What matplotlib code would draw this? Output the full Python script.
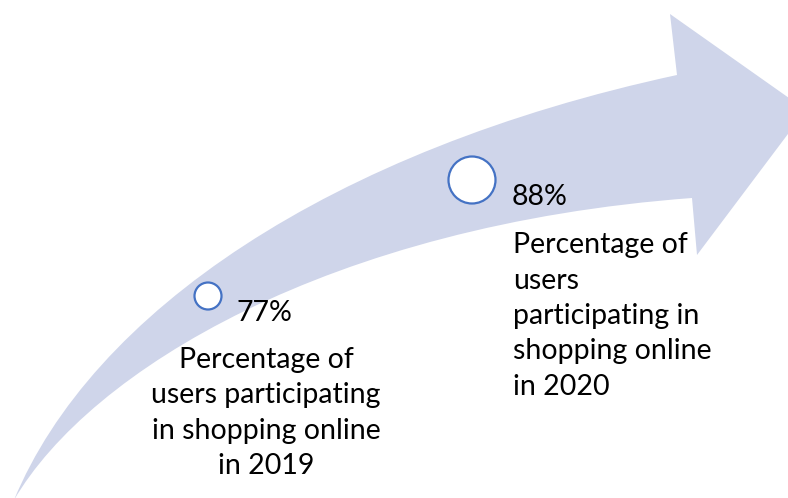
import matplotlib
matplotlib.use("Agg")
import matplotlib.pyplot as plt
from matplotlib.patches import PathPatch, Circle
from matplotlib.path import Path

years = [2019, 2020]
shares = [77, 88]
captions = [
    "Percentage of\nusers participating\nin shopping online\nin 2019",
    "Percentage of\nusers\nparticipating in\nshopping online\nin 2020",
]

ARROW_COLOR = "#CFD5EA"
RING_COLOR = "#4472C4"
FONT = ["Lato", "DejaVu Sans"]

fig = plt.figure(figsize=(7.88, 4.98), dpi=100)
ax = fig.add_axes([0, 0, 1, 1])
ax.set_xlim(0, 788)
ax.set_ylim(498, 0)
ax.axis("off")

# curved arrow: upper edge, head, then lower edge back to the tail
verts = [
    (14, 500),
    (92, 312), (330, 150), (677, 75),
    (670, 14),
    (806, 110),
    (697, 255),
    (692, 198),
    (330, 225), (90, 370), (14, 500),
    (14, 500),
]
codes = [Path.MOVETO,
         Path.CURVE4, Path.CURVE4, Path.CURVE4,
         Path.LINETO, Path.LINETO, Path.LINETO, Path.LINETO,
         Path.CURVE4, Path.CURVE4, Path.CURVE4,
         Path.CLOSEPOLY]
ax.add_patch(PathPatch(Path(verts, codes), facecolor=ARROW_COLOR, edgecolor="none"))

# markers and labels for each year
rings = [(208, 296, 13.5), (472, 180, 23.5)]
pct_pos = [(237, 313), (512, 197)]
cap_pos = [(266, 413), (513, 316)]
cap_align = ["center", "left"]

for i in range(len(years)):
    cx, cy, r = rings[i]
    ax.add_patch(Circle((cx, cy), r, facecolor="white", edgecolor=RING_COLOR, lw=1.6))
    ax.text(pct_pos[i][0], pct_pos[i][1], f"{shares[i]}%", fontsize=20.5,
            family=FONT, ha="left", va="center", color="black")
    ax.text(cap_pos[i][0], cap_pos[i][1], captions[i], fontsize=20.5, family=FONT,
            ha=cap_align[i], va="center", multialignment=cap_align[i],
            linespacing=1.45, color="black")

fig.savefig("out.png", dpi=100)
